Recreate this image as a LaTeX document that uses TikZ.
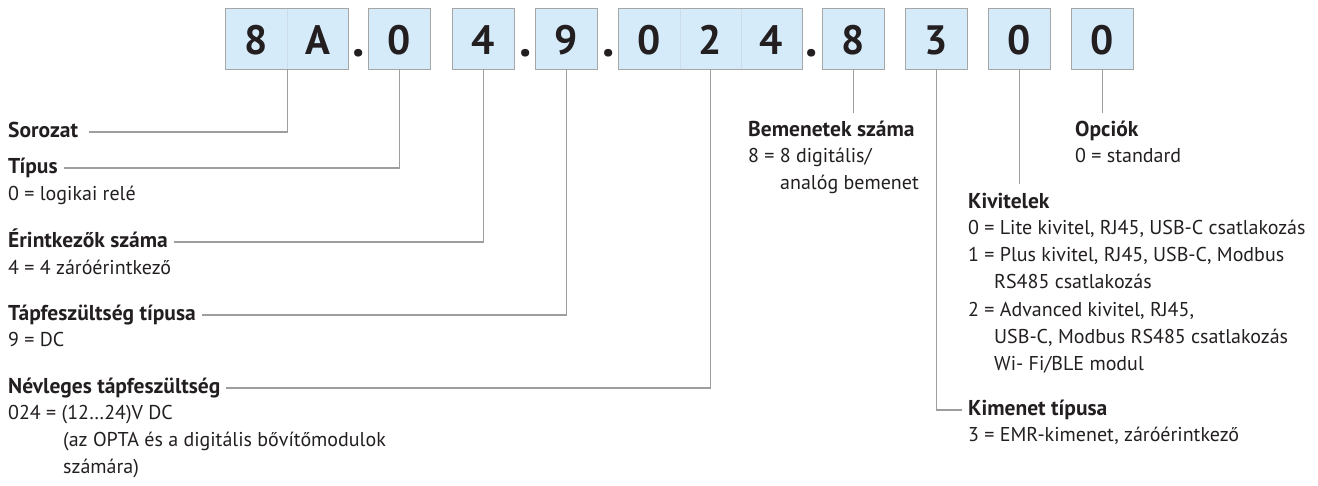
\documentclass[tikz,border=0pt]{standalone}
\usepackage{fontspec}
\setmainfont{PT Sans}

\definecolor{cellblue}{HTML}{D6EBFA}
\definecolor{framegray}{HTML}{A6A6A6}
\definecolor{leadgray}{HTML}{9E9E9E}
\definecolor{txt}{HTML}{231F20}

\tikzset{
  cell/.style={fill=cellblue, minimum width=61pt, minimum height=60pt, inner sep=0pt,
    font=\fontsize{41}{41}\selectfont\bfseries, text=txt, text height=30pt, text depth=0pt},
  frame/.style={draw=framegray, line width=1.3pt},
  seam/.style={draw=cellblue!80!framegray, line width=0.7pt},
  leader/.style={draw=leadgray, line width=1.1pt},
  sepdot/.style={font=\fontsize{50}{50}\selectfont\bfseries, text=txt, anchor=base, inner sep=0pt},
  head/.style={anchor=west, inner sep=0pt, font=\fontsize{21.5}{21.5}\selectfont\bfseries,
    text=txt, text height=14pt, text depth=4pt},
  val/.style={anchor=west, inner sep=0pt, font=\fontsize{20}{20}\selectfont,
    text=txt, text height=13pt, text depth=4pt}
}

\begin{document}
\begin{tikzpicture}[x=1pt,y=-1pt]
    \useasboundingbox (0,0) rectangle (1318,485);

    % code cells
    \node[cell] (ser1)  at (256.5,39) {8};
    \node[cell] (ser2)  at (317.5,39) {A};
    \node[cell] (typ)   at (399.5,39) {0};
    \node[cell] (cont)  at (483.5,39) {4};
    \node[cell] (supp)  at (566.5,39) {9};
    \node[cell] (volt1) at (649.5,39) {0};
    \node[cell] (volt2) at (710.5,39) {2};
    \node[cell] (volt3) at (771.5,39) {4};
    \node[cell] (inp)   at (853.5,39) {8};
    \node[cell] (outp)  at (936.5,39) {3};
    \node[cell] (ver)   at (1019.5,39) {0};
    \node[cell] (opt)   at (1102.5,39) {0};

    % seams and frames
    \draw[seam] (ser1.north east) -- (ser1.south east);
    \draw[seam] (volt1.north east) -- (volt1.south east);
    \draw[seam] (volt2.north east) -- (volt2.south east);
    \draw[frame] (ser1.north west) rectangle (ser2.south east);
    \draw[frame] (volt1.north west) rectangle (volt3.south east);
    \foreach \c in {typ,cont,supp,inp,outp,ver,opt}
        \draw[frame] (\c.north west) rectangle (\c.south east);

    % dots
    \node[sepdot] (dot1) at (359,56) {.};
    \node[sepdot] (dot2) at (526,56) {.};
    \node[sepdot] (dot3) at (609,56) {.};
    \node[sepdot] (dot4) at (812,56) {.};

    % left column
    \node[head] (sorozat) at (8,132) {Sorozat};
    \node[head] (tipus)   at (8,168) {Típus};
    \node[val]  (tipusv)  at (8,196) {0 = logikai relé};
    \node[head] (erint)   at (8,242) {Érintkezők száma};
    \node[val]  (erintv)  at (8,270) {4 = 4 záróérintkező};
    \node[head] (tapt)    at (8,315) {Tápfeszültség típusa};
    \node[val]  (taptv)   at (8,342) {9 = DC};
    \node[head] (nevl)    at (8,388) {Névleges tápfeszültség};
    \node[val]  (nevlv)   at (8,415) {024 = (12…24)V DC};
    \node[val]  (nevlv2)  at (63,442) {(az OPTA és a digitális bővítőmodulok};
    \node[val]  (nevlv3)  at (63,469) {számára)};

    % right side
    \node[head] (bem)    at (748,131) {Bemenetek száma};
    \node[val]  (bemv)   at (748,158) {8 = 8 digitális/};
    \node[val]  (bemv2)  at (780,185) {analóg bemenet};
    \node[head] (opc)    at (1075,131) {Opciók};
    \node[val]  (opcv)   at (1075,158) {0 = standard};
    \node[head] (kiv)    at (968,203) {Kivitelek};
    \node[val]  (kivv0)  at (968,230) {0 = Lite kivitel, RJ45, USB-C csatlakozás};
    \node[val]  (kivv1)  at (968,257) {1 = Plus kivitel, RJ45, USB-C, Modbus};
    \node[val]  (kivv1b) at (994,284) {RS485 csatlakozás};
    \node[val]  (kivv2)  at (968,312) {2 = Advanced kivitel, RJ45,};
    \node[val]  (kivv2b) at (994,339) {USB-C, Modbus RS485 csatlakozás};
    \node[val]  (kivv2c) at (994,366) {Wi- Fi/BLE modul};
    \node[head] (kim)    at (968,410) {Kimenet típusa};
    \node[val]  (kimv)   at (968,437) {3 = EMR-kimenet, záróérintkező};

    % leaders
    \draw[leader, shorten >=11pt] (ser1.south east) |- (sorozat.east);
    \draw[leader, shorten >=6pt] (typ.south) |- (tipus.east);
    \draw[leader, shorten >=6pt] (cont.south) |- (erint.east);
    \draw[leader, shorten >=6pt] (supp.south) |- (tapt.east);
    \draw[leader, shorten >=6pt] (volt2.south) |- (nevl.east);
    \draw[leader, shorten >=9pt] (inp.south) -- (inp.south |- bem.north);
    \draw[leader, shorten >=9pt] (opt.south) -- (opt.south |- opc.north);
    \draw[leader, shorten >=10pt] (ver.south) -- (ver.south |- kiv.north);
    \draw[leader, shorten >=6pt] (outp.south) |- (kim.west);
\end{tikzpicture}
\end{document}
